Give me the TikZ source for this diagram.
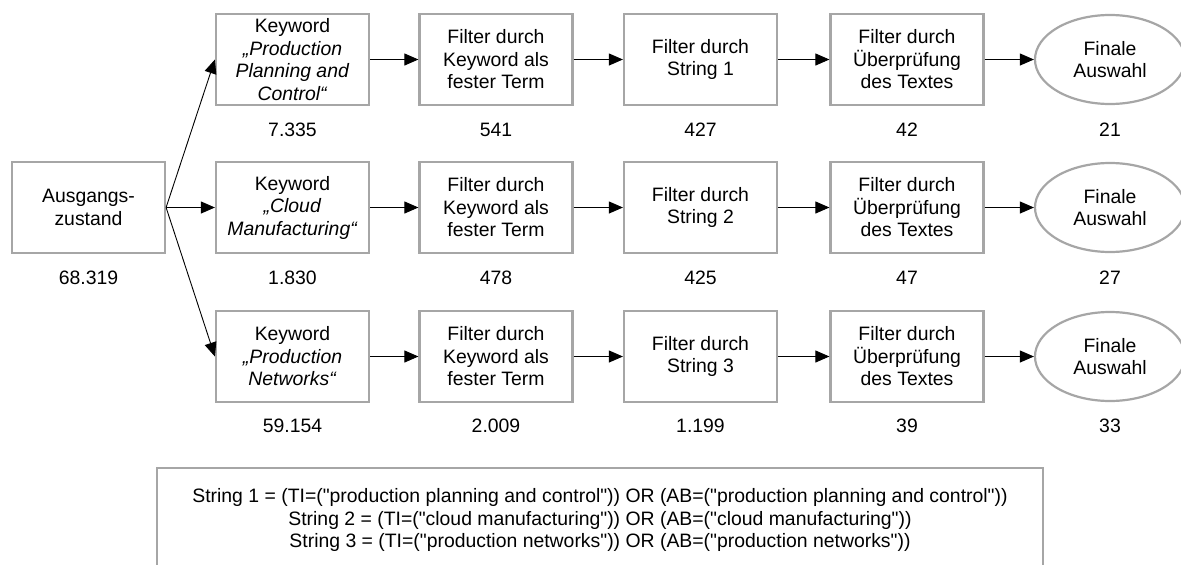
\documentclass[tikz,border=0pt]{standalone}
\usepackage{fontspec}
\setmainfont{Liberation Sans}[Ligatures=TeXOff]
\usetikzlibrary{arrows.meta,shapes.geometric}
\definecolor{framegray}{RGB}{166,166,166}
\begin{document}
\begin{tikzpicture}[x=1pt,y=-1pt,
  font=\fontsize{19.4}{22.5}\selectfont,
  stepbox/.style={draw=framegray,line width=2.2pt,minimum width=153pt,minimum height=91pt,inner sep=0pt,align=center},
  finalbox/.style={ellipse,draw=framegray,line width=2.2pt,minimum width=150pt,minimum height=89pt,inner sep=0pt,align=center},
  count/.style={inner sep=0pt},
  flow/.style={line width=0.9pt,-{Triangle[length=14pt,width=12pt]}},
]
\useasboundingbox (0,0) rectangle (1181,565);

% start state
\node[stepbox] (start) at (88.5,207.5) {Ausgangs-\\zustand};
\node[count] (nstart) at (88.5,277.5) {68.319};

% row 1: production planning and control
\node[stepbox] (k1) at (292.5,59.5) {Keyword\\\textit{„Production}\\\textit{Planning and}\\\textit{Control“}};
\node[stepbox] (a1) at (496,59.5) {Filter durch\\Keyword als\\fester Term};
\node[stepbox] (b1) at (700.5,59.5) {Filter durch\\String 1};
\node[stepbox] (c1) at (907,59.5) {Filter durch\\Überprüfung\\des Textes};
\node[finalbox] (e1) at (1110,59.5) {Finale\\Auswahl};
\node[count] (nk1) at (292.5,129.5) {7.335};
\node[count] (na1) at (496,129.5) {541};
\node[count] (nb1) at (700.5,129.5) {427};
\node[count] (nc1) at (907,129.5) {42};
\node[count] (ne1) at (1110,129.5) {21};

% row 2: cloud manufacturing
\node[stepbox] (k2) at (292.5,207.5) {Keyword\\\textit{„Cloud}\\\textit{Manufacturing“}};
\node[stepbox] (a2) at (496,207.5) {Filter durch\\Keyword als\\fester Term};
\node[stepbox] (b2) at (700.5,207.5) {Filter durch\\String 2};
\node[stepbox] (c2) at (907,207.5) {Filter durch\\Überprüfung\\des Textes};
\node[finalbox] (e2) at (1110,207.5) {Finale\\Auswahl};
\node[count] (nk2) at (292.5,277.5) {1.830};
\node[count] (na2) at (496,277.5) {478};
\node[count] (nb2) at (700.5,277.5) {425};
\node[count] (nc2) at (907,277.5) {47};
\node[count] (ne2) at (1110,277.5) {27};

% row 3: production networks
\node[stepbox] (k3) at (292.5,356.5) {Keyword\\\textit{„Production}\\\textit{Networks“}};
\node[stepbox] (a3) at (496,356.5) {Filter durch\\Keyword als\\fester Term};
\node[stepbox] (b3) at (700.5,356.5) {Filter durch\\String 3};
\node[stepbox] (c3) at (907,356.5) {Filter durch\\Überprüfung\\des Textes};
\node[finalbox] (e3) at (1110,356.5) {Finale\\Auswahl};
\node[count] (nk3) at (292.5,425.5) {59.154};
\node[count] (na3) at (496,425.5) {2.009};
\node[count] (nb3) at (700.5,425.5) {1.199};
\node[count] (nc3) at (907,425.5) {39};
\node[count] (ne3) at (1110,425.5) {33};

% fan-out from the start state
\draw[flow] (start.east) -- (k1.west);
\draw[flow] (start.east) -- (k2.west);
\draw[flow] (start.east) -- (k3.west);

% filter chains
\foreach \r in {1,2,3}{
  \draw[flow] (k\r.east) -- (a\r.west);
  \draw[flow] (a\r.east) -- (b\r.west);
  \draw[flow] (b\r.east) -- (c\r.west);
  \draw[flow] (c\r.east) -- (e\r.west);
}

% search string legend
\draw[framegray,line width=2.2pt] (157,468) rectangle (1043,600);
\node[align=center,inner sep=0pt] (legend) at (600,520) {String 1 = (TI=("production planning and control")) OR (AB=("production planning and control"))\\
String 2 = (TI=("cloud manufacturing")) OR (AB=("cloud manufacturing"))\\
String 3 = (TI=("production networks")) OR (AB=("production networks"))};
\end{tikzpicture}
\end{document}
